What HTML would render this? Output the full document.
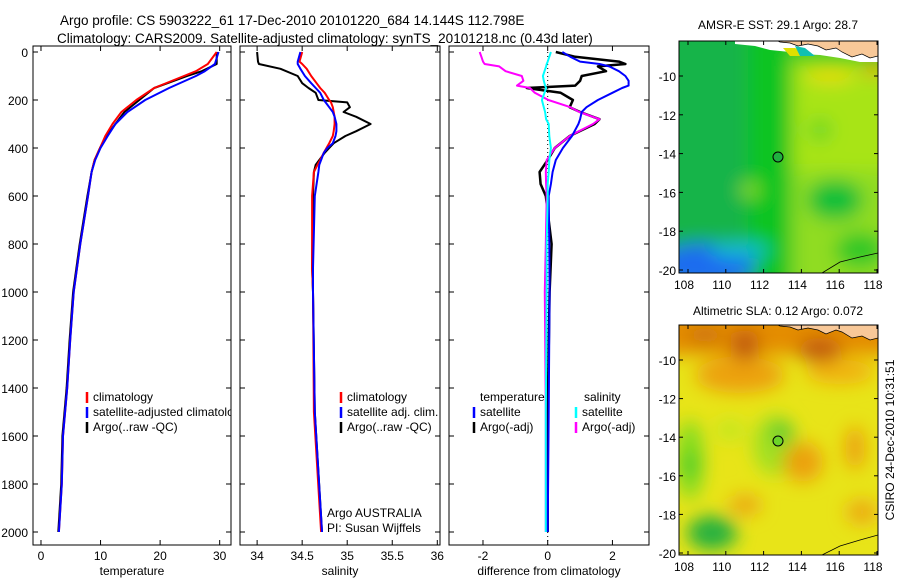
<!DOCTYPE html>
<html><head><meta charset="utf-8">
<style>
html,body{margin:0;padding:0;background:#fff;}
svg{display:block;font-family:"Liberation Sans",sans-serif;}
text{font-size:12px;fill:#000;}
</style></head>
<body>
<svg id="fig" width="900" height="580" viewBox="0 0 900 580" xmlns="http://www.w3.org/2000/svg">
<defs>
<filter id="blur1" filterUnits="userSpaceOnUse" x="600" y="0" width="320" height="600"><feGaussianBlur stdDeviation="9"/></filter>
<clipPath id="cm1"><rect x="679" y="41" width="199" height="232"/></clipPath>
<clipPath id="cm2"><rect x="679" y="325" width="199" height="230"/></clipPath>
<clipPath id="cp1"><rect x="33" y="46" width="198" height="500"/></clipPath>
<clipPath id="cp2"><rect x="240" y="46" width="200" height="500"/></clipPath>
<clipPath id="cp3"><rect x="449" y="46" width="200" height="500"/></clipPath>
</defs>
<text x="60" y="25" style="font-size:13.5px">Argo profile: CS 5903222_61 17-Dec-2010 20101220_684 14.144S 112.798E</text>
<text x="57" y="43" style="font-size:13.5px">Climatology: CARS2009. Satellite-adjusted climatology: synTS_20101218.nc (0.43d later)</text>

<!-- top map -->
<g clip-path="url(#cm1)">
<rect x="679" y="41" width="199" height="232" fill="#40c828"/>
<g filter="url(#blur1)">
<rect x="650" y="20" width="105" height="280" fill="#12b448"/>
<rect x="748" y="20" width="42" height="280" fill="#08c420"/>
<rect x="792" y="60" width="110" height="110" fill="#a8e418"/>
<rect x="792" y="170" width="110" height="120" fill="#90dc20"/>
<ellipse cx="835" cy="200" rx="28" ry="20" fill="#10c038"/>
<ellipse cx="820" cy="130" rx="12" ry="12" fill="#70d828"/>
<ellipse cx="750" cy="190" rx="10" ry="8" fill="#88dc28"/>
<ellipse cx="830" cy="75" rx="25" ry="8" fill="#e8dc10"/>
<ellipse cx="873" cy="68" rx="8" ry="8" fill="#f09010"/>
<ellipse cx="705" cy="265" rx="50" ry="22" fill="#1a6cf0"/>
<ellipse cx="740" cy="250" rx="30" ry="8" fill="#10bcd0"/>
<ellipse cx="860" cy="250" rx="25" ry="18" fill="#30c828"/>
</g>
<path d="M735 41 H878 V62 L860 62 L840 58 L820 55 L800 54 L790 52 L770 50 L755 46 L735 44 Z" fill="#ffffff"/>
<path d="M783 48 L795 48 L805 52 L800 56 L790 56 Z" fill="#e0e000"/>
<path d="M795 46 L805 48 L815 56 L800 56 Z" fill="#10c0b0"/>
<path d="M778 41 H878 V56 L870 58 L862 54 L852 57 L842 52 L836 48 L826 50 L818 46 L808 44 L798 46 L790 43 L780 42 Z" fill="#f8c898" stroke="#000" stroke-width="0.7"/>
<path d="M822 273 L840 262 L860 257 L878 253" fill="none" stroke="#000" stroke-width="0.8"/>
<circle cx="778" cy="157" r="5" fill="#20b040" stroke="#000" stroke-width="1"/>
</g>
<rect x="679" y="41" width="199" height="232" fill="none" stroke="#000"/>
<text x="778" y="29" text-anchor="middle">AMSR-E SST: 29.1 Argo: 28.7</text>

<!-- bottom map -->
<g clip-path="url(#cm2)">
<rect x="679" y="325" width="199" height="230" fill="#e8e418"/>
<g filter="url(#blur1)">
<rect x="660" y="310" width="240" height="45" fill="#e48c00"/>
<ellipse cx="740" cy="375" rx="45" ry="18" fill="#eca010"/>
<ellipse cx="840" cy="372" rx="35" ry="12" fill="#f0b010"/>
<ellipse cx="745" cy="345" rx="14" ry="16" fill="#c05810"/>
<ellipse cx="705" cy="335" rx="18" ry="8" fill="#c87010"/>
<ellipse cx="820" cy="350" rx="22" ry="12" fill="#c05810"/>
<ellipse cx="690" cy="460" rx="14" ry="40" fill="#80dc20"/>
<ellipse cx="690" cy="465" rx="7" ry="12" fill="#30c828"/>
<ellipse cx="775" cy="445" rx="22" ry="30" fill="#a0e020"/>
<ellipse cx="782" cy="432" rx="11" ry="10" fill="#50c830"/>
<ellipse cx="730" cy="430" rx="15" ry="10" fill="#c0e820"/>
<ellipse cx="712" cy="533" rx="25" ry="17" fill="#20b040"/>
<ellipse cx="803" cy="462" rx="20" ry="20" fill="#eca010"/>
<ellipse cx="855" cy="448" rx="10" ry="22" fill="#eca010"/>
<ellipse cx="745" cy="505" rx="16" ry="10" fill="#eca414"/>
<ellipse cx="862" cy="512" rx="16" ry="12" fill="#eca818"/>
</g>
<path d="M778 325 H878 V338 L870 340 L862 336 L852 338 L842 332 L836 330 L826 334 L818 330 L808 328 L798 330 L790 327 L780 326 Z" fill="#f8c898" stroke="#000" stroke-width="0.7"/>
<path d="M822 555 L840 546 L860 540 L878 535" fill="none" stroke="#000" stroke-width="0.8"/>
<circle cx="778" cy="441" r="5" fill="#6cd428" stroke="#000" stroke-width="1"/>
</g>
<rect x="679" y="325" width="199" height="230" fill="none" stroke="#000"/>
<text x="778" y="315" text-anchor="middle">Altimetric SLA: 0.12 Argo: 0.072</text>
<text transform="translate(894,440) rotate(-90)" text-anchor="middle">CSIRO 24-Dec-2010 10:31:51</text>
<g id="maxes"></g>
<g id="panels"></g>
</svg>
<script>
const tDepth = [0,50,80,100,150,200,250,300,350,400,450,500,600,800,1000,1200,1400,1600,1800,2000];
const tClim  = [29.5,28,26,24,19,16,13.5,12,10.8,9.9,9,8.5,7.9,6.6,5.5,4.9,4.4,3.7,3.5,3.0];
const tSat   = [29.8,29.2,27.5,26,21.5,17.5,14.5,12.5,11.2,10,9.1,8.5,7.9,6.6,5.5,4.9,4.4,3.7,3.5,3.0];
const tArgo  = [29.5,29.5,27,24.5,19,16.5,14,12.5,11,9.9,9,8.5,7.8,6.5,5.4,4.8,4.3,3.6,3.4,2.9];

const sDepth = [0,40,50,70,100,130,150,170,200,210,230,250,270,300,330,350,380,400,420,450,470,500,600,900,1000,1500,2000];
const sClim  = [34.5,34.47,34.5,34.55,34.6,34.66,34.7,34.75,34.8,34.82,34.84,34.85,34.86,34.86,34.85,34.84,34.8,34.77,34.74,34.7,34.67,34.63,34.61,34.61,34.62,34.63,34.71];
const sSat   = [34.48,34.45,34.45,34.48,34.53,34.6,34.65,34.7,34.74,34.76,34.8,34.84,34.86,34.88,34.88,34.87,34.84,34.78,34.74,34.71,34.69,34.68,34.64,34.62,34.62,34.64,34.72];
const sArgo  = [34.0,34.01,34.02,34.26,34.45,34.5,34.57,34.65,34.68,35.0,35.03,34.96,35.1,35.26,35.1,34.98,34.85,34.8,34.75,34.69,34.65,34.63,34.62,34.61,34.62,34.64,34.72];

const dDepth = [0,20,40,50,60,80,100,120,140,150,170,200,230,250,280,300,350,400,450,500,550,600,800,1000,1500,2000];
const dTSat  = [0.45,0.7,1.0,1.6,1.9,2.2,2.4,2.5,2.5,2.3,2.0,1.55,1.2,1.05,1.0,0.95,0.75,0.47,0.25,0.15,0.1,0.03,0.05,0.06,0.03,0.0];
const dTArgo = [0.25,0.85,2.2,2.4,1.55,1.8,1.05,1.0,0.85,-0.65,0.4,0.78,0.68,1.0,1.6,1.45,0.68,0.22,0.0,-0.25,-0.22,-0.06,0.12,0.06,0.0,0.0];
const dSSat  = [0.1,0.05,0.0,-0.03,-0.05,-0.1,-0.15,-0.12,-0.08,-0.05,-0.1,-0.18,-0.12,-0.08,-0.05,0.03,0.05,0.1,0.05,0.03,0.0,0.0,-0.03,-0.03,-0.06,-0.06];
const dSArgo = [-2.1,-2.05,-2.0,-1.95,-1.5,-1.3,-0.8,-0.75,-0.95,-0.55,-0.4,0.02,0.7,0.98,1.6,1.4,0.68,0.22,-0.03,-0.06,-0.05,-0.03,-0.06,-0.09,-0.06,-0.06];

const depthTicks = [0,200,400,600,800,1000,1200,1400,1600,1800,2000];
const tTicks = [0,10,20,30];
const sTicks = [34,34.5,35,35.5,36];
const sTickLabels = ["34","34.5","35","35.5","36"];
const dTicks = [-2,0,2];
const lonTicks = [108,110,112,114,116,118];
const latTicks = [10,12,14,16,18,20];

const NS="http://www.w3.org/2000/svg";
function mk(tag, attrs, parent, txt){
  const e=document.createElementNS(NS,tag);
  for(const k in attrs) e.setAttribute(k,attrs[k]);
  if(txt!==undefined) e.textContent=txt;
  parent.appendChild(e); return e;
}
const yD = d => 52 + d*0.24;
const panels = document.getElementById('panels');

function panel(name,x0,x1,vmin,vmax,ticks,labels,xlabel,clip){
  const g=mk('g',{},panels);
  
  
  const sx = v => x0 + (v-vmin)/(vmax-vmin)*(x1-x0);
  const fr=mk('rect',{x:x0,y:46,width:x1-x0,height:499,fill:'none',stroke:'#000'},g);
  
  
  ticks.forEach((t,i)=>{
    const x=sx(t);
    mk('line',{x1:x,x2:x,y1:545,y2:540,stroke:'#000'},g);
    mk('line',{x1:x,x2:x,y1:46,y2:51,stroke:'#000'},g);
    const tl=mk('text',{x:x,y:560,'text-anchor':'middle'},g,labels[i]);
    
    
  });
  depthTicks.forEach(d=>{
    const y=yD(d);
    mk('line',{x1:x0,x2:x0+5,y1:y,y2:y,stroke:'#000'},g);
    mk('line',{x1:x1,x2:x1-5,y1:y,y2:y,stroke:'#000'},g);
  });
  const xl=mk('text',{x:(x0+x1)/2,y:575,'text-anchor':'middle'},g,xlabel);
  
  
  const lines=mk('g',{'clip-path':'url(#'+clip+')'},g);
  return {g,sx,lines};
}
function series(p,depths,vals,color,w,name){
  const pts=depths.map((d,i)=>p.sx(vals[i]).toFixed(1)+','+yD(d).toFixed(1)).join(' ');
  const l=mk('polyline',{points:pts,fill:'none',stroke:color,'stroke-width':w,'stroke-linejoin':'round'},p.lines);
  
  
}
function legend(g,x,y,color,label,name){
  mk('line',{x1:x,x2:x,y1:y-9,y2:y+2,stroke:color,'stroke-width':2.5},g);
  const t=mk('text',{x:x+6,y:y},g,label);
  
  
}

depthTicks.forEach(d=>{
  const t=mk('text',{x:28,y:yD(d)+5,'text-anchor':'end'},panels,String(d));
  
  
});

const p1=panel('temperature-panel',33,231,-1.34,31.9,tTicks,tTicks.map(String),'temperature','cp1');
series(p1,tDepth,tArgo,'#000',2,'temperature-argo-line');
series(p1,tDepth,tClim,'#f00',2,'temperature-climatology-line');
series(p1,tDepth,tSat,'#00f',2,'temperature-satellite-line');
const lg1=mk('g',{'clip-path':'url(#cp1)'},p1.g);
legend(lg1,87,401,'#f00','climatology','legend-climatology');
legend(lg1,87,416,'#00f','satellite-adjusted climatology','legend-satellite-adjusted');
legend(lg1,87,431,'#000','Argo(..raw -QC)','legend-argo');

const p2=panel('salinity-panel',240,440,33.81,36.03,sTicks,sTickLabels,'salinity','cp2');
series(p2,sDepth,sArgo,'#000',2,'salinity-argo-line');
series(p2,sDepth,sClim,'#f00',2,'salinity-climatology-line');
series(p2,sDepth,sSat,'#00f',2,'salinity-satellite-line');
legend(p2.g,341,401,'#f00','climatology','legend-climatology');
legend(p2.g,341,416,'#00f','satellite adj. clim.','legend-satellite');
legend(p2.g,341,431,'#000','Argo(..raw -QC)','legend-argo');
let t=mk('text',{x:327,y:517},p2.g,'Argo AUSTRALIA');


t=mk('text',{x:327,y:532},p2.g,'PI: Susan Wijffels');



const p3=panel('difference-panel',449,649,-3.05,3.13,dTicks,dTicks.map(String),'difference from climatology','cp3');
mk('line',{x1:p3.sx(0),x2:p3.sx(0),y1:52,y2:545,stroke:'#000','stroke-dasharray':'1,3'},p3.lines);
series(p3,dDepth,dTArgo,'#000',2.5,'diff-temperature-argo-line');
series(p3,dDepth,dSArgo,'#f0f',2,'diff-salinity-argo-line');
series(p3,dDepth,dTSat,'#00f',2,'diff-temperature-satellite-line');
series(p3,dDepth,dSSat,'#0ff',2,'diff-salinity-satellite-line');
t=mk('text',{x:480,y:401},p3.g,'temperature');


t=mk('text',{x:584,y:401},p3.g,'salinity');


legend(p3.g,474,416,'#00f','satellite','legend-temp-satellite');
legend(p3.g,474,431,'#000','Argo(-adj)','legend-temp-argo');
legend(p3.g,576,416,'#0ff','satellite','legend-sal-satellite');
legend(p3.g,576,431,'#f0f','Argo(-adj)','legend-sal-argo');

const maxes=document.getElementById('maxes');
function mapAxes(x0,x1,yTop,yBot,lat10y,lat20y,name){
  const g=mk('g',{},maxes);
  
  
  const sx=v=>688+(v-108)*(877-688)/10;
  const sy=v=>lat10y+(v-10)*(lat20y-lat10y)/10;
  lonTicks.forEach(v=>{
    const x=sx(v);
    mk('line',{x1:x,x2:x,y1:yBot,y2:yBot-4,stroke:'#000'},g);
    mk('line',{x1:x,x2:x,y1:yTop,y2:yTop+4,stroke:'#000'},g);
    const l=mk('text',{x:x-4,y:yBot+16,'text-anchor':'middle'},g,String(v));
    
    
  });
  latTicks.forEach(v=>{
    const y=sy(v);
    mk('line',{x1:x0,x2:x0+4,y1:y,y2:y,stroke:'#000'},g);
    mk('line',{x1:x1,x2:x1-4,y1:y,y2:y,stroke:'#000'},g);
    const l=mk('text',{x:x0-3,y:y+5,'text-anchor':'end'},g,'-'+v);
    
    
  });
}
mapAxes(679,878,41,273,76,270,'sst-map-axes');
mapAxes(679,878,325,555,360,553,'sla-map-axes');
</script>
</body></html>
